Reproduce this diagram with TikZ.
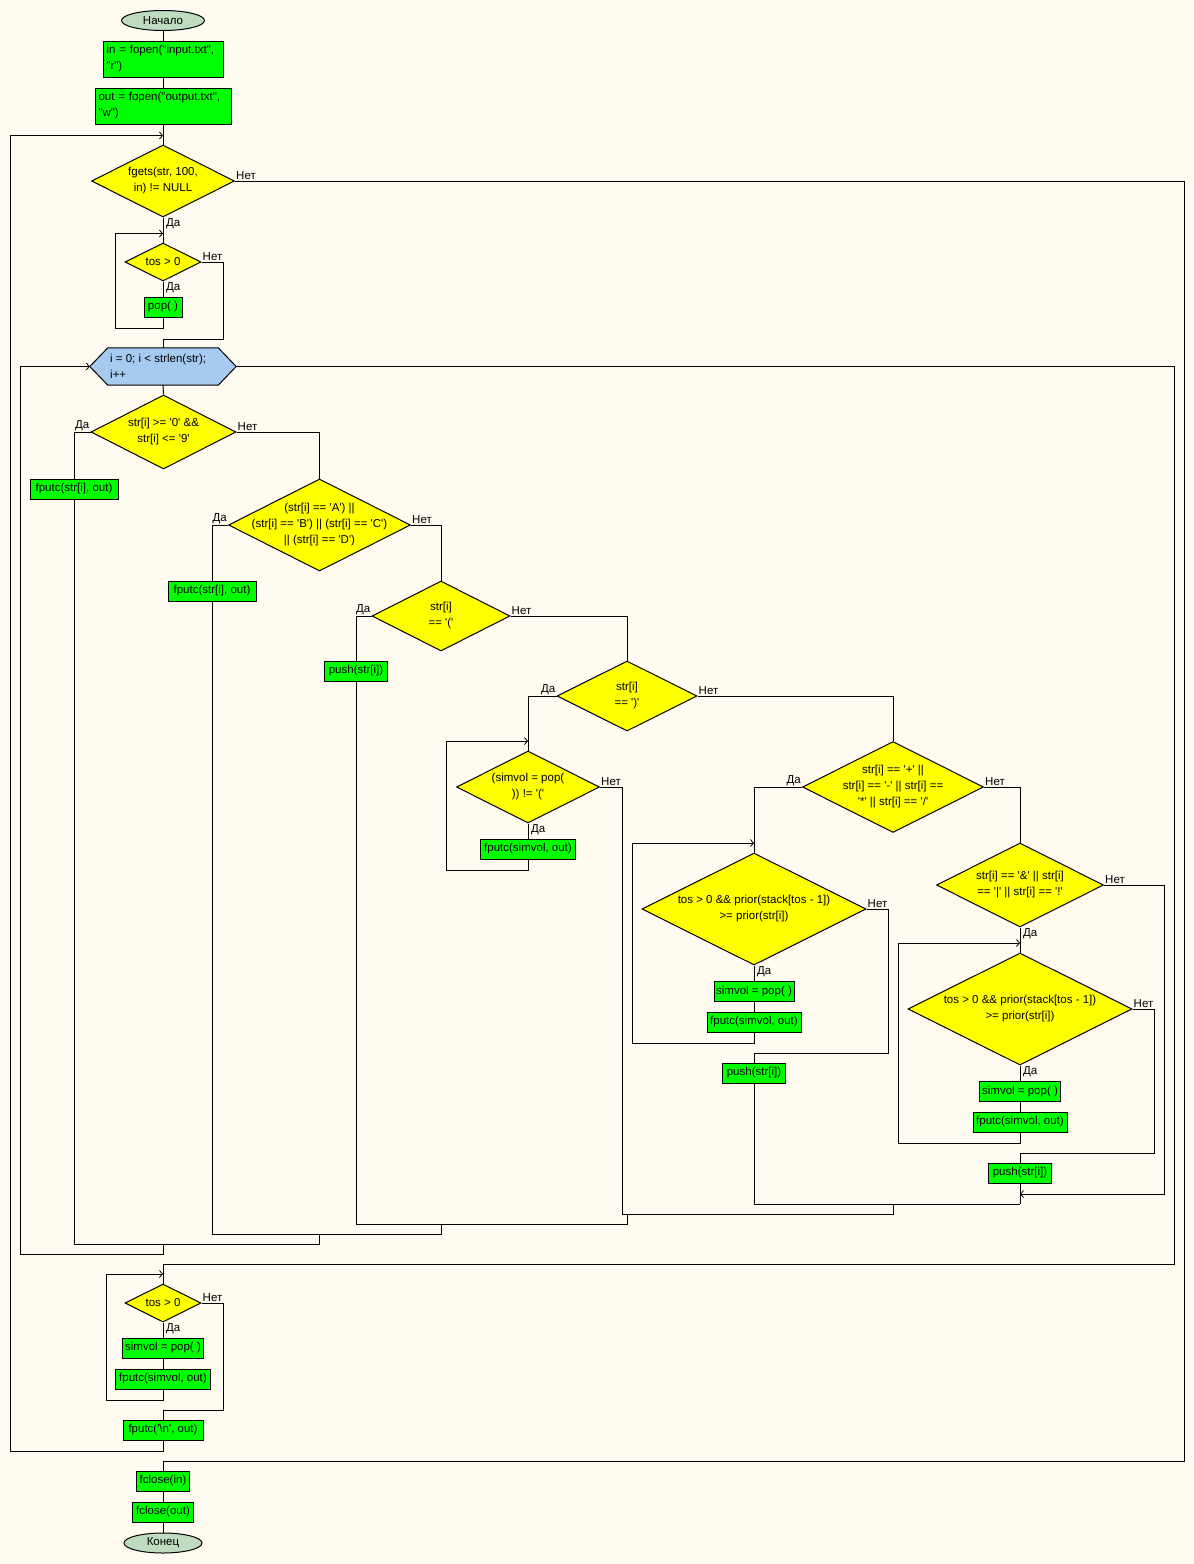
\documentclass[tikz,border=0pt]{standalone}
\usepackage{fontspec}
\setmainfont{Liberation Sans}[Ligatures=TeXOff]
\usetikzlibrary{arrows.meta,shapes.geometric}
\definecolor{paper}{RGB}{255,251,240}
\definecolor{actgreen}{RGB}{0,255,0}
\definecolor{condyellow}{RGB}{255,255,0}
\definecolor{loopblue}{RGB}{166,202,240}
\definecolor{termgray}{RGB}{192,220,192}
\begin{document}
\begin{tikzpicture}[x=1pt,y=-1pt,
  every node/.style={font=\fontsize{11.5}{16}\selectfont, inner sep=0pt},
  wire/.style={line width=1pt},
  arr/.style={line width=1pt,-{Straight Barb[length=3pt,width=7pt,line width=0.8pt]}},
  term/.style={ellipse, draw, line width=1pt, fill=termgray, minimum width=#1, minimum height=20pt},
  act/.style={rectangle, draw, line width=1pt, fill=actgreen, minimum width=#1, minimum height=20pt},
  cond/.style 2 args={diamond, draw, line width=1pt, fill=condyellow, minimum width=#1, minimum height=#2},
  ctext/.style={align=center},
  lbl/.style={inner sep=1pt},
  nolbl/.style={lbl, anchor=south west},
  yesleft/.style={lbl, anchor=south east},
  yesdown/.style={lbl, anchor=north west, xshift=2pt}
]
\fill[paper] (0,0) rectangle (1194,1564);
\useasboundingbox (0,0) rectangle (1194,1564);

% ---------- start and file opening ----------
\node[term=83pt] (start) at (163,20.5) {Начало};
\node[act=120pt, minimum height=36pt, text width=113pt, align=left] (b1) at (163,59) {in = fopen("input.txt",\\"r")};
\node[act=136pt, minimum height=36pt, text width=129pt, align=left] (b2) at (163,106) {out = fopen("output.txt",\\"w")};

% ---------- line reading loop ----------
\node[cond={143pt}{72pt}] (d1) at (163,181) {};
\node[ctext] (d1t) at (d1) {fgets(str, 100,\\in) != NULL};

\node[cond={76pt}{38pt}] (tos1) at (163,262) {};
\node[ctext] (tos1t) at (tos1) {tos > 0};
\node[act=38pt] (pop1) at (163,307) {pop( )};

% ---------- for loop over the characters ----------
\node[minimum width=146pt, minimum height=37pt] (hex) at (163,366.5) {};
\filldraw[fill=loopblue, line width=1pt] (hex.west) -- ([xshift=18pt]hex.north west) -- ([xshift=-18pt]hex.north east) -- (hex.east) -- ([xshift=-18pt]hex.south east) -- ([xshift=18pt]hex.south west) -- cycle;
\node[anchor=west, align=left] (hext) at (110,366.5) {i = 0; i < strlen(str);\\i++};

\node[cond={145pt}{74pt}] (d2) at (163.5,432) {};
\node[ctext] (d2t) at (d2) {str[i] >= '0' \&\&\\str[i] <= '9'};
\node[act=88pt] (fp1) at (74,489) {fputc(str[i], out)};

\node[cond={182pt}{92pt}] (d3) at (319.5,525) {};
\node[ctext] (d3t) at (d3) {(str[i] == 'A') ||\\(str[i] == 'B') || (str[i] == 'C')\\|| (str[i] == 'D')};
\node[act=88pt] (fp2) at (212,591) {fputc(str[i], out)};

\node[cond={138pt}{70pt}] (dp) at (441,616) {};
\node[ctext] (dpt) at (dp) {str[i]\\== '('};
\node[act=63pt] (push1) at (356,671) {push(str[i])};

\node[cond={140pt}{70pt}] (d4) at (627,696) {};
\node[ctext] (d4t) at (d4) {str[i]\\== ')'};

\node[cond={143pt}{72pt}] (d5) at (528,787) {};
\node[ctext] (d5t) at (d5) {(simvol = pop(\\)) != '('};
\node[act=95pt] (fps) at (528,849) {fputc(simvol, out)};

\node[cond={181pt}{91pt}] (dop) at (893,787) {};
\node[ctext] (dopt) at (dop) {str[i] == '+' ||\\str[i] == '-' || str[i] ==\\'*' || str[i] == '/'};

\node[cond={224pt}{112pt}] (d7) at (754,909) {};
\node[ctext] (d7t) at (d7) {tos > 0 \&\& prior(stack[tos - 1])\\>= prior(str[i])};
\node[act=80pt] (sp1) at (754,991.5) {simvol = pop( )};
\node[act=94pt] (fs1) at (754,1022) {fputc(simvol, out)};
\node[act=63pt] (push2) at (754,1073) {push(str[i])};

\node[cond={167pt}{84pt}] (dlog) at (1020,885) {};
\node[ctext] (dlogt) at (dlog) {str[i] == '\&' || str[i]\\== '|' || str[i] == '!'};

\node[cond={224pt}{112pt}] (d9) at (1020,1009) {};
\node[ctext] (d9t) at (d9) {tos > 0 \&\& prior(stack[tos - 1])\\>= prior(str[i])};
\node[act=81pt] (sp2) at (1020,1091.5) {simvol = pop( )};
\node[act=94pt] (fs2) at (1020,1122) {fputc(simvol, out)};
\node[act=63pt] (push3) at (1020,1173) {push(str[i])};

% ---------- emptying the stack ----------
\node[cond={76pt}{38pt}] (tos2) at (163,1303) {};
\node[ctext] (tos2t) at (tos2) {tos > 0};
\node[act=81pt] (sp3) at (163,1348) {simvol = pop( )};
\node[act=95pt] (fs3) at (163,1379) {fputc(simvol, out)};
\node[act=80pt] (fpn) at (163,1430) {fputc('\textbackslash n', out)};

% ---------- closing ----------
\node[act=53pt] (fci) at (163,1481) {fclose(in)};
\node[act=61pt] (fco) at (163,1512) {fclose(out)};
\node[term=78pt] (end) at (163,1543) {Конец};

% ---------- junction points ----------
\coordinate (e1) at (163,135.5);
\coordinate (e2) at (163,233.5);
\coordinate (e3) at (163,1274);
\coordinate (e4) at (528,741);
\coordinate (e5) at (754,843);
\coordinate (e6) at (1020,943);
\coordinate (e7) at (1020,1194);
\coordinate (m1) at (163,1244);
\coordinate (m2) at (319,1234);
\coordinate (m3) at (441,1224);
\coordinate (m4) at (627,1214);
\coordinate (m5) at (893,1204);

% ---------- connectors ----------
\draw[wire] (start) -- (b1);
\draw[wire] (b1) -- (b2);
\draw[wire] (b2) -- (d1);
\draw[wire] (d1.east) -- (1184,181) -- (1184,1461) -- (163,1461) -- (fci.north);
\draw[wire] (d1.south) -- (tos1.north);
\draw[wire] (tos1.south) -- (pop1.north);
\draw[arr] (pop1.south) -- (163,328) -- (115,328) -- (115,233.5) -- (e2);
\draw[wire] (tos1.east) -- (223,262) -- (223,339) -- (163,339) -- (hex.north);

\draw[wire] (hex.east) -- (1174,366.5) -- (1174,1264) -- (163,1264) -- (tos2.north);
\draw[arr] (m1) -- (163,1254) -- (20,1254) -- (20,366.5) -- (hex.west);
\draw[wire] (hex.south) -- (d2.north);

\draw[wire] (d2.west) -| (fp1.north);
\draw[wire] (fp1.south) -- (74,1244) -- (319,1244) -- (m2);
\draw[wire] (d2.east) -| (d3.north);

\draw[wire] (d3.west) -| (fp2.north);
\draw[wire] (fp2.south) -- (212,1234) -- (441,1234) -- (m3);
\draw[wire] (d3.east) -| (dp.north);

\draw[wire] (dp.west) -| (push1.north);
\draw[wire] (push1.south) -- (356,1224) -- (627,1224) -- (m4);
\draw[wire] (dp.east) -| (d4.north);

\draw[wire] (d4.west) -| (d5.north);
\draw[wire] (d5.south) -- (fps.north);
\draw[arr] (fps.south) -- (528,870) -- (446,870) -- (446,741) -- (e4);
\draw[wire] (d5.east) -- (622,787) -- (622,1214) -- (893,1214) -- (m5);
\draw[wire] (d4.east) -| (dop.north);

\draw[wire] (dop.west) -| (d7.north);
\draw[wire] (d7.south) -- (sp1.north);
\draw[wire] (sp1) -- (fs1);
\draw[arr] (fs1.south) -- (754,1043) -- (632,1043) -- (632,843) -- (e5);
\draw[wire] (d7.east) -- (888,909) -- (888,1053) -- (754,1053) -- (push2.north);
\draw[wire] (push2.south) -- (754,1204) -- (1020,1204);
\draw[wire] (dop.east) -| (dlog.north);

\draw[wire] (dlog.south) -- (d9.north);
\draw[wire] (d9.south) -- (sp2.north);
\draw[wire] (sp2) -- (fs2);
\draw[arr] (fs2.south) -- (1020,1143) -- (898,1143) -- (898,943) -- (e6);
\draw[wire] (d9.east) -- (1154,1009) -- (1154,1153) -- (1020,1153) -- (push3.north);
\draw[arr] (dlog.east) -- (1164,885) -- (1164,1194) -- (e7);
\draw[wire] (push3.south) -- (1020,1204);

\draw[wire] (tos2.south) -- (sp3.north);
\draw[wire] (sp3) -- (fs3);
\draw[arr] (fs3.south) -- (163,1400) -- (106,1400) -- (106,1274) -- (e3);
\draw[wire] (tos2.east) -- (223,1303) -- (223,1410) -- (163,1410) -- (fpn.north);
\draw[arr] (fpn.south) -- (163,1451) -- (10.5,1451) -- (10.5,135.5) -- (e1);

\draw[wire] (fci) -- (fco);
\draw[wire] (fco) -- (end);

% ---------- branch labels ----------
\node[nolbl] (d1n) at (d1.east) {Нет};
\node[yesdown] (d1y) at (d1.south) {Да};
\node[nolbl] (tos1n) at (tos1.east) {Нет};
\node[yesdown] (tos1y) at (tos1.south) {Да};
\node[yesleft] (d2y) at (d2.west) {Да};
\node[nolbl] (d2n) at (d2.east) {Нет};
\node[yesleft] (d3y) at (d3.west) {Да};
\node[nolbl] (d3n) at (d3.east) {Нет};
\node[yesleft] (dpy) at (dp.west) {Да};
\node[nolbl] (dpn) at (dp.east) {Нет};
\node[yesleft] (d4y) at (d4.west) {Да};
\node[nolbl] (d4n) at (d4.east) {Нет};
\node[nolbl] (d5n) at (d5.east) {Нет};
\node[yesdown] (d5y) at (d5.south) {Да};
\node[yesleft] (dopy) at (dop.west) {Да};
\node[nolbl] (dopn) at (dop.east) {Нет};
\node[nolbl] (d7n) at (d7.east) {Нет};
\node[yesdown] (d7y) at (d7.south) {Да};
\node[nolbl] (dlogn) at (dlog.east) {Нет};
\node[yesdown] (dlogy) at (dlog.south) {Да};
\node[nolbl] (d9n) at (d9.east) {Нет};
\node[yesdown] (d9y) at (d9.south) {Да};
\node[nolbl] (tos2n) at (tos2.east) {Нет};
\node[yesdown] (tos2y) at (tos2.south) {Да};
\end{tikzpicture}
\end{document}
